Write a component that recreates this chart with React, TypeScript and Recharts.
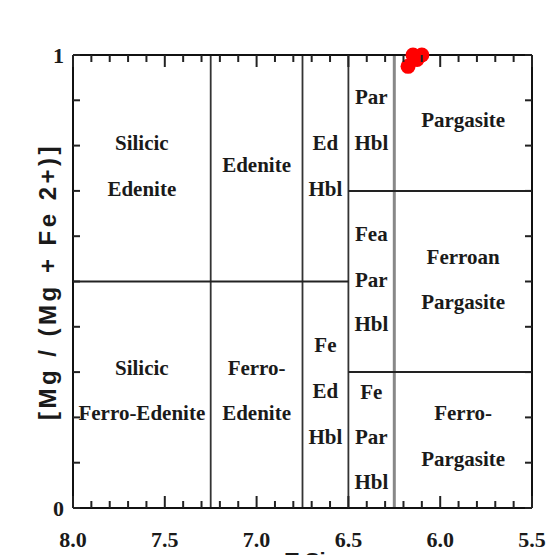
import React from 'react';
import { ScatterChart, Scatter, XAxis, YAxis, ReferenceLine } from 'recharts';

const xTicks = [8.0, 7.9, 7.8, 7.7, 7.6, 7.5, 7.4, 7.3, 7.2, 7.1, 7.0, 6.9, 6.8, 6.7, 6.6, 6.5, 6.4, 6.3, 6.2, 6.1, 6.0, 5.9, 5.8, 5.7, 5.6, 5.5];
const xTickLabels = [8.0, 7.5, 7.0, 6.5, 6.0, 5.5];
const yTicks = [0, 0.1, 0.2, 0.3, 0.4, 0.5, 0.6, 0.7, 0.8, 0.9, 1.0];
const yTickLabels = [0, 1];

const samples = [
  { x: 6.1, y: 1.0 },
  { x: 6.148, y: 1.0 },
  { x: 6.126, y: 0.99 },
  { x: 6.175, y: 0.975 },
];

const boundaries = [
  { x1: 7.25, y1: 0, x2: 7.25, y2: 1 },
  { x1: 6.75, y1: 0, x2: 6.75, y2: 1 },
  { x1: 6.5, y1: 0, x2: 6.5, y2: 1 },
];
const pargasiteBoundary = [{ x1: 6.25, y1: 0, x2: 6.25, y2: 1 }];
const mgBoundaries = [
  { x1: 8.0, y1: 0.5, x2: 6.5, y2: 0.5 },
  { x1: 6.5, y1: 0.7, x2: 5.5, y2: 0.7 },
  { x1: 6.5, y1: 0.3, x2: 5.5, y2: 0.3 },
];

const regionLabels = [
  { x: 7.625, y: 0.806, text: 'Silicic' },
  { x: 7.625, y: 0.706, text: 'Edenite' },
  { x: 7.0, y: 0.757, text: 'Edenite' },
  { x: 6.625, y: 0.806, text: 'Ed' },
  { x: 6.625, y: 0.706, text: 'Hbl' },
  { x: 6.375, y: 0.907, text: 'Par' },
  { x: 6.375, y: 0.806, text: 'Hbl' },
  { x: 5.875, y: 0.857, text: 'Pargasite' },
  { x: 6.375, y: 0.605, text: 'Fea' },
  { x: 6.375, y: 0.505, text: 'Par' },
  { x: 6.375, y: 0.406, text: 'Hbl' },
  { x: 5.875, y: 0.554, text: 'Ferroan' },
  { x: 5.875, y: 0.455, text: 'Pargasite' },
  { x: 7.625, y: 0.309, text: 'Silicic' },
  { x: 7.625, y: 0.21, text: 'Ferro-Edenite' },
  { x: 7.0, y: 0.309, text: 'Ferro-' },
  { x: 7.0, y: 0.21, text: 'Edenite' },
  { x: 6.625, y: 0.36, text: 'Fe' },
  { x: 6.625, y: 0.26, text: 'Ed' },
  { x: 6.625, y: 0.158, text: 'Hbl' },
  { x: 6.375, y: 0.256, text: 'Fe' },
  { x: 6.375, y: 0.158, text: 'Par' },
  { x: 6.375, y: 0.058, text: 'Hbl' },
  { x: 5.875, y: 0.21, text: 'Ferro-' },
  { x: 5.875, y: 0.108, text: 'Pargasite' },
];

const SERIF = "'Liberation Serif', 'Times New Roman', serif";
const SANS = "'Liberation Sans', Arial, sans-serif";
const TICK_COLOR = '#222';

const isIn = (arr: number[], v: number) => arr.some((m) => Math.abs(m - v) < 1e-6);

const BottomTick = (props: any) => {
  const { x, y, payload } = props;
  const v = payload.value;
  const major = isIn(xTickLabels, v);
  return (
    <g>
      <line x1={x} x2={x} y1={y} y2={y - (major ? 12 : 7)} stroke={TICK_COLOR} strokeWidth={2} />
      {major && (
        <text x={x} y={y + 39} textAnchor="middle" fontFamily={SERIF} fontWeight="bold" fontSize={22} fill="#1a1a1a">
          {v.toFixed(1)}
        </text>
      )}
    </g>
  );
};

const TopTick = (props: any) => {
  const { x, y, payload } = props;
  const major = isIn(xTickLabels, payload.value);
  return <line x1={x} x2={x} y1={y} y2={y + (major ? 12 : 7)} stroke={TICK_COLOR} strokeWidth={2} />;
};

const LeftTick = (props: any) => {
  const { x, y, payload } = props;
  const v = payload.value;
  return (
    <g>
      <line x1={x} x2={x + 7} y1={y} y2={y} stroke={TICK_COLOR} strokeWidth={2} />
      {isIn(yTickLabels, v) && (
        <text x={x - 9} y={y + 8} textAnchor="end" fontFamily={SERIF} fontWeight="bold" fontSize={22} fill="#1a1a1a">
          {String(v)}
        </text>
      )}
    </g>
  );
};

const RightTick = (props: any) => {
  const { x, y } = props;
  return <line x1={x} x2={x - 7} y1={y} y2={y} stroke={TICK_COLOR} strokeWidth={2} />;
};

const RegionLabel = (props: any) => (
  <text x={props.cx} y={props.cy} dy="0.35em" textAnchor="middle" fontFamily={SERIF} fontWeight="bold" fontSize={21} fill="#1a1a1a">
    {props.payload.text}
  </text>
);

const SampleDot = (props: any) => <circle cx={props.cx} cy={props.cy} r={7.5} fill="#ff0000" />;
const NoMark = () => <g />;

const YTitle = (props: any) => {
  const vb = props.viewBox || {};
  const cx = vb.x + 39;
  const cy = vb.y + vb.height / 2;
  return (
    <text x={cx} y={cy} transform={`rotate(-90 ${cx} ${cy})`} textAnchor="middle" dominantBaseline="central" fontFamily={SANS} fontWeight="bold" fontSize={24} letterSpacing={3.5} fill="#1a1a1a">
      [Mg / (Mg + Fe 2+)]
    </text>
  );
};

const XTitle = (props: any) => {
  const vb = props.viewBox || {};
  const cx = vb.x + vb.width / 2 + 3;
  return (
    <text x={cx} y={vb.y + 60} textAnchor="middle" fontFamily={SANS} fontWeight="bold" fontSize={22} fill="#1a1a1a">
      T Si
    </text>
  );
};

export default function App() {
  return (
    <div>
      <style>{`html,body{overflow:hidden;}`}</style>
      <ScatterChart width={548} height={560} margin={{ top: 0, right: 0, bottom: 0, left: 0 }}>
        <XAxis xAxisId="b" type="number" dataKey="x" orientation="bottom" domain={[5.5, 8]} reversed ticks={xTicks} interval={0} tickSize={0} tickMargin={0} tickLine={false} tick={<BottomTick />} height={60} axisLine={{ stroke: '#111', strokeWidth: 2 }} label={{ content: (p: any) => <XTitle {...p} /> }} />
        <XAxis xAxisId="t" type="number" dataKey="x" orientation="top" domain={[5.5, 8]} reversed ticks={xTicks} interval={0} tickSize={0} tickMargin={0} tickLine={false} tick={<TopTick />} height={47} axisLine={{ stroke: '#111', strokeWidth: 2 }} />
        <YAxis yAxisId="l" type="number" dataKey="y" orientation="left" domain={[0, 1]} ticks={yTicks} interval={0} tickSize={0} tickMargin={0} tickLine={false} tick={<LeftTick />} width={65} axisLine={{ stroke: '#111', strokeWidth: 2 }} label={{ content: (p: any) => <YTitle {...p} /> }} />
        <YAxis yAxisId="r" type="number" dataKey="y" orientation="right" domain={[0, 1]} ticks={yTicks} interval={0} tickSize={0} tickMargin={0} tickLine={false} tick={<RightTick />} width={24} axisLine={{ stroke: '#111', strokeWidth: 2 }} />
        {pargasiteBoundary.map((s, i) => (
          <ReferenceLine key={`p${i}`} xAxisId="b" yAxisId="l" segment={[{ x: s.x1, y: s.y1 }, { x: s.x2, y: s.y2 }]} stroke="#888" strokeWidth={3} />
        ))}
        {boundaries.map((s, i) => (
          <ReferenceLine key={`v${i}`} xAxisId="b" yAxisId="l" segment={[{ x: s.x1, y: s.y1 }, { x: s.x2, y: s.y2 }]} stroke="#333" strokeWidth={1.8} />
        ))}
        {mgBoundaries.map((s, i) => (
          <ReferenceLine key={`h${i}`} xAxisId="b" yAxisId="l" segment={[{ x: s.x1, y: s.y1 }, { x: s.x2, y: s.y2 }]} stroke="#222" strokeWidth={2} />
        ))}
        <Scatter xAxisId="t" yAxisId="r" data={samples} shape={NoMark} isAnimationActive={false} />
        <Scatter xAxisId="b" yAxisId="l" data={regionLabels} shape={RegionLabel} isAnimationActive={false} />
        <Scatter xAxisId="b" yAxisId="l" data={samples} shape={SampleDot} isAnimationActive={false} />
      </ScatterChart>
    </div>
  );
}
